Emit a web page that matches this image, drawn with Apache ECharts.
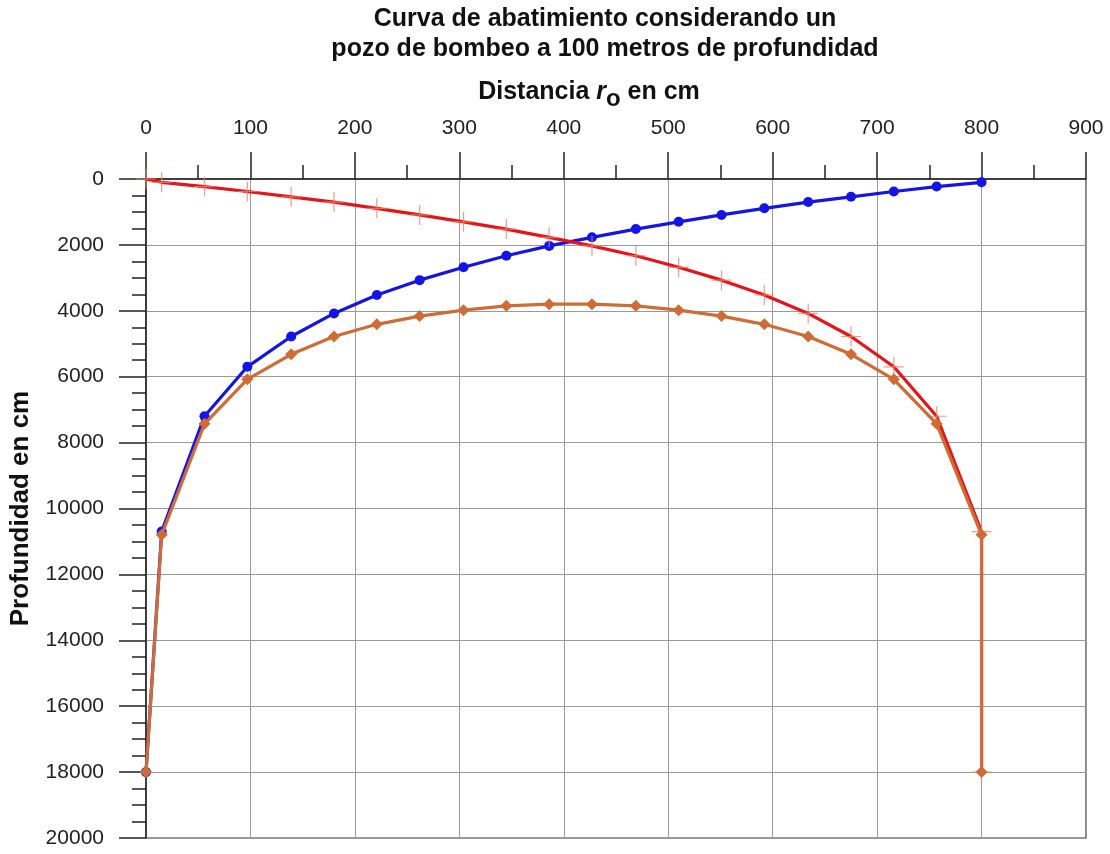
<!DOCTYPE html>
<html>
<head>
<meta charset="utf-8">
<script src="https://cdn.jsdelivr.net/npm/echarts@6/dist/echarts.min.js"></script>
<style>
  html, body { margin: 0; padding: 0; background: #ffffff; }
  #chart { width: 1110px; height: 854px; }
</style>
</head>
<body>
<div id="chart"></div>
<script>
// Distancias (cm) de los puntos de observación entre ambos pozos
const distancias = [15, 56, 97, 139, 180, 221, 262, 304, 345, 386, 427, 469, 510, 551, 592, 634, 675, 716, 757, 800];

// Abatimiento (cm) producido por el pozo situado en r = 0
const abatPozo1 = [10700, 7200, 5700, 4780, 4080, 3520, 3070, 2680, 2330, 2030, 1770, 1520, 1300, 1090, 890, 700, 540, 380, 230, 100];

// Abatimiento (cm) producido por el pozo situado en r = 800
const abatPozo2 = [100, 230, 380, 540, 700, 890, 1090, 1300, 1520, 1770, 2030, 2330, 2680, 3070, 3520, 4080, 4780, 5700, 7200, 10700];

// Abatimiento total (cm) con ambos pozos bombeando
const abatTotal = [10800, 7430, 6080, 5320, 4780, 4410, 4160, 3980, 3850, 3800, 3800, 3850, 3980, 4160, 4410, 4780, 5320, 6080, 7430, 10800];

// Nivel en el interior de cada pozo (cm)
const fondoPozo = 18000;
const superficie = 0;

const FONT = '"Liberation Sans", Arial, Helvetica, sans-serif';

function pares(xs, ys) {
  return xs.map((x, i) => [x, ys[i]]);
}

const serieAzul = [[0, fondoPozo]].concat(pares(distancias, abatPozo1));
const serieRoja = [[0, superficie]].concat(pares(distancias, abatPozo2), [[800, fondoPozo]]);
const serieNaranja = [[0, fondoPozo]].concat(pares(distancias, abatTotal), [[800, fondoPozo]]);

const cruz = 'path://M9.4,0h1.2v20h-1.2z M0,9.4h20v1.2h-20z';

const chart = echarts.init(document.getElementById('chart'), null, { renderer: 'canvas' });

chart.setOption({
  backgroundColor: '#ffffff',
  animation: false,
  textStyle: { fontFamily: FONT },
  title: {
    text: 'Curva de abatimiento considerando un\npozo de bombeo a 100 metros de profundidad',
    left: 600,
    top: -1,
    textAlign: 'center',
    textStyle: {
      fontFamily: FONT,
      fontSize: 25,
      fontWeight: 'bold',
      color: '#111111',
      lineHeight: 30
    }
  },
  grid: {
    left: 146,
    right: 24,
    top: 179,
    bottom: 16,
    show: true,
    borderColor: '#333333',
    borderWidth: 1.2,
    containLabel: false,
    outerBoundsMode: 'none'
  },
  xAxis: {
    type: 'value',
    position: 'top',
    min: 0,
    max: 900,
    interval: 100,
    name: 'Distancia {r|r}{o|o} en cm',
    nameLocation: 'middle',
    nameGap: 68,
    nameMoveOverlap: false,
    nameTextStyle: {
      fontFamily: FONT,
      fontSize: 25,
      fontWeight: 'bold',
      color: '#111111',
      padding: [0, 54, 0, 0],
      rich: {
        r: { fontFamily: FONT, fontSize: 25, fontWeight: 'bold', fontStyle: 'italic', color: '#111111' },
        o: { fontFamily: FONT, fontSize: 24, fontWeight: 'bold', color: '#111111', padding: [13, 0, 0, 0] }
      }
    },
    axisLine: { show: true, onZero: false, lineStyle: { color: '#222222', width: 1.5 } },
    axisTick: { show: true, inside: false, length: 27, lineStyle: { color: '#222222', width: 1.5 } },
    minorTick: { show: true, splitNumber: 2, length: 14, lineStyle: { color: '#222222', width: 1.5 } },
    axisLabel: { fontFamily: FONT, fontSize: 21, color: '#222222', margin: 40 },
    splitLine: { show: true, lineStyle: { color: '#9a9a9a', width: 1 } }
  },
  yAxis: {
    type: 'value',
    inverse: true,
    min: 0,
    max: 20000,
    interval: 2000,
    name: 'Profundidad en cm',
    nameLocation: 'middle',
    nameGap: 112,
    nameRotate: 90,
    nameMoveOverlap: false,
    nameTextStyle: { fontFamily: FONT, fontSize: 26, fontWeight: 'bold', color: '#111111' },
    axisLine: { show: true, onZero: false, lineStyle: { color: '#222222', width: 1.5 } },
    axisTick: { show: true, inside: false, length: 27, lineStyle: { color: '#222222', width: 1.5 } },
    minorTick: { show: true, splitNumber: 4, length: 14, lineStyle: { color: '#222222', width: 1.5 } },
    axisLabel: {
      fontFamily: FONT,
      fontSize: 21,
      color: '#222222',
      margin: 42,
      formatter: (v) => String(v)
    },
    splitLine: { show: true, lineStyle: { color: '#9a9a9a', width: 1 } }
  },
  series: [
    {
      name: 'Pozo 1',
      type: 'line',
      data: serieAzul,
      symbol: 'circle',
      symbolSize: 10,
      showAllSymbol: true,
      lineStyle: { color: '#1414e6', width: 3.2 },
      itemStyle: { color: '#1414e6' },
      z: 2
    },
    {
      name: 'Pozo 2',
      type: 'line',
      data: serieRoja,
      symbol: cruz,
      symbolSize: 20,
      symbolKeepAspect: true,
      showAllSymbol: true,
      lineStyle: { color: '#e8121a', width: 3.2 },
      itemStyle: { color: 'rgba(240, 130, 100, 0.8)' },
      z: 3
    },
    {
      name: 'Total',
      type: 'line',
      data: serieNaranja,
      symbol: 'diamond',
      symbolSize: 12,
      showAllSymbol: true,
      lineStyle: { color: '#cf6c36', width: 3.2 },
      itemStyle: { color: '#cf6c36' },
      z: 4
    }
  ]
});
</script>
</body>
</html>
